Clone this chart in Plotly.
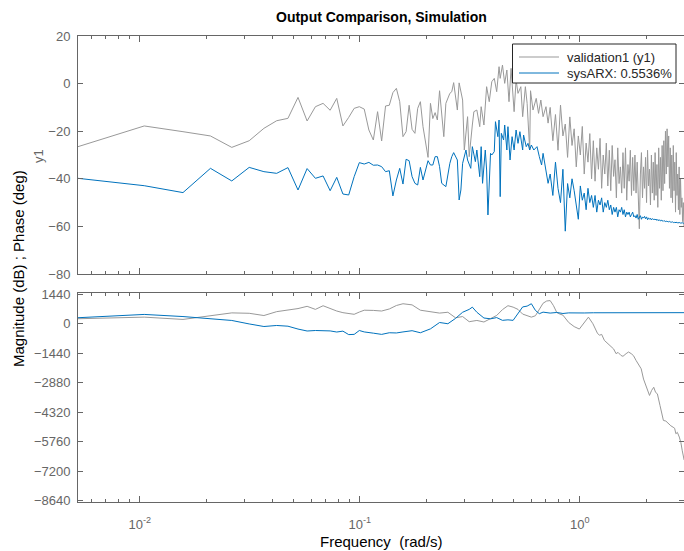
import math
import plotly.graph_objects as go

# frequency bins: w = k * 2*pi/1200 (rad/s)
BIN_W = 2 * math.pi / 1200

# ---------------- Magnitude (dB) ----------------
val_mag_bins = list(range(1, 38)) + [
    39, 40, 41, 42, 43, 44, 46, 47, 49, 50, 51, 53, 54, 56, 57, 59, 60,
    62, 63, 65, 67, 68, 70, 72, 74, 76, 78, 80, 82, 83, 85, 87, 89,
    91, 93, 96, 98, 100, 103, 105, 108, 110, 113, 114, 117,
    121, 124, 127, 130, 134, 137] + list(range(140, 569, 4))
val_mag = [
    -26.5, -17.8, -20.2, -22.0, -26.8, -24.0, -18.8, -15.6, -14.6, -5.8,
    -15.7, -9.7, -8.3, -11.2, -6.2, -17.8, -14.2, -10.4, -9.7, -10.7,
    -19.5, -23.7, -11.8, -24.1, -9.4, -9.1, -3.8, -2.0, -7.6, -22.3,
    -20.2, -9.1, -19.2, -20.9, -10.4, -7.6, -18.1,
    -31.0, -8.3, -14.7, -12.2, -15.3, -3.0, -22.3, -8.3, -4.1, -3.4, 0.4,
    -11.1, 0.3, -6.9, -27.9, -13.9, -30.7,
    -17.4, -11.8, -11.1, -18.1, -9.7, -17.4, -1.3, -7.6, 0.8, 2.2, -3.4,
    7.1, 2.2, 7.8, 0.1, 5.7,
    -7.6, 6.4, -11.8, 1.5, -4.1, -1.3, -13.9, -1.3, -8.3, -27.9, -3.0, -11.1,
    -6.2, -12.5, -6.9, -13.9, -9.7, -16.6,
    -10, -24, -13, -28, -9, -22, -17, -31, -14, -26,
    -19, -35, -22, -30, -18, -38, -25, -33, -21, -40,
    -24, -41, -27, -36, -23, -44, -30, -38, -25, -43,
    -28, -45, -26, -39, -32, -48, -27, -42, -35, -46,
    -29, -44, -27, -49, -34, -41, -28, -47, -31, -45,
    -30, -46, -33, -50, -61, -38, -29, -48, -35, -44,
    -31, -50, -28, -43, -36, -51, -30, -46, -33, -49,
    -29, -47, -34, -52, -27, -44, -31, -49, -26, -45,
    -24, -42, -20, -38, -19, -35, -22, -44, -27, -48,
    -30, -50, -26, -45, -33, -54, -29, -47, -38, -53,
    -35, -55, -40, -52, -48, -58, -50, -60]

arx_mag_bins = list(range(1, 38)) + [
    39, 40, 41, 42, 43, 44, 45, 47, 49, 50, 51, 53, 54, 55, 56, 58, 59, 61,
    62, 64, 65, 67, 68, 69, 71, 72, 73, 75, 76, 78, 79, 81, 82, 83, 84, 86,
    87, 89, 90, 92, 94, 96, 98, 100, 102, 105, 106, 109, 111, 113, 115, 118,
    122, 125, 128, 130, 134, 137] + list(range(140, 569, 4))
arx_mag = [
    -39.8, -42.9, -45.8, -35.6, -40.9, -35.2, -37.0, -37.7, -35.3, -44.7,
    -35.7, -39.8, -38.8, -45.0, -39.4, -46.4, -46.8, -39.1, -33.2, -33.8,
    -33.1, -34.3, -34.2, -34.9, -37.0, -36.6, -47.2, -40.5, -35.6, -42.2,
    -31.8, -32.4, -39.1, -41.9, -42.6, -35.2, -40.5,
    -32.4, -34.2, -34.2, -30.7, -30.7, -34.9, -41.9, -43.3, -33.5, -30.7,
    -29.0, -32.1, -48.9, -44.7, -33.5, -27.9, -32.1, -35.6, -26.5, -32.8,
    -27.9, -39.1, -26.5, -41.9, -27.9, -36.3, -55.2, -29.3, -30.0, -28.6,
    -16.0, -22.3, -15.3, -47.5, -20.9, -23.7, -17.4, -27.9, -18.1, -32.1,
    -22.3, -27.9, -19.5, -25.1, -20.2, -27.9, -21.6, -26.5, -25.1, -27.9,
    -25.8, -27.9, -26.5, -30.7, -34.2, -29.3, -36.3, -41.9,
    -38, -47, -33, -44, -50, -36, -62, -42, -48, -40,
    -45, -51, -57, -43, -49, -46, -53, -44, -50, -47,
    -52, -47, -54, -49, -51, -48, -54, -50, -52, -49,
    -53, -51, -55, -52, -54, -52, -56, -53, -54, -52,
    -55, -53, -56, -54, -55, -54, -56, -55, -54, -56,
    -55.5, -56.5, -55, -57, -56, -55.5, -57, -56, -56.5, -55.8,
    -56.8, -56, -57.2, -56.4, -57, -56.6, -57.3, -56.7, -57.1, -56.9,
    -57.3, -56.9, -57.5, -57.1, -57.6, -57.2, -57.7, -57.4, -57.8, -57.5,
    -57.9, -57.6, -58.0, -57.7, -58.1, -57.8, -58.2, -57.9, -58.2, -58.0,
    -58.3, -58.1, -58.4, -58.2, -58.4, -58.3, -58.5, -58.3, -58.5, -58.4,
    -58.6, -58.4, -58.6, -58.5, -58.7, -58.5, -58.7, -58.6]

# ---------------- Phase (deg) ----------------
val_ph_bins = list(range(1, 21)) + [
    22, 24, 26, 28, 30, 33, 36, 40, 44, 48,
    52, 56, 60, 65, 70, 75, 80, 85, 90, 95,
    100, 105, 110, 115, 120, 125, 130, 135, 140, 145,
    150, 155, 160, 170, 180, 190, 196, 209,
    219, 230, 235, 240, 247, 265, 272, 279, 285,
    294, 300, 310, 318, 327, 335, 344, 363,
    372, 382, 396, 405, 414, 422, 430, 442,
    450, 458, 470, 483, 495, 507, 515, 522, 530,
    541, 550, 558, 566, 569]
val_ph = [
    244, 322, 210, 375, 530, 510, 400, 590, 660, 740,
    850, 700, 878, 740, 620, 540, 490, 460, 570, 660,
    650, 620, 720, 890, 976, 920, 660, 600, 520, 560,
    290, 350, 100, 161, 85, 250, 405, 690, 880, 810,
    700, 470, 400, 322, 390, 700, 1000, 1110, 1130, 880,
    550, 470, 420, 60, -140, -260, -83, 322,
    0, -480, -560, -520, -815, -1140, -1230, -1460, -1400,
    -1550, -1590, -1460, -1380, -1460, -1560, -1790, -2200,
    -2700, -3090, -3500, -3250, -3100, -3350, -3420, -3990,
    -4400, -4720, -4750, -4880, -4980, -5050, -5100, -5370, -5300,
    -5530, -5800, -6200, -6510, -6650]

arx_ph_bins = list(range(1, 21)) + [
    22, 24, 26, 28, 30, 33, 36, 40, 44, 48,
    52, 56, 60, 62, 65, 70, 75, 80, 85, 90,
    95, 100, 105, 110, 115, 120, 125, 130, 140, 150,
    160, 170, 180, 190, 200, 220, 240, 260, 300, 350,
    400, 450, 500, 569]
arx_ph = [
    293, 454, 350, 230, 160, -10, -135, -85, -120, -260,
    -355, -330, -335, -350, -405, -361, -530, -520, -330, -400,
    -460, -520, -440, -450, -400, -340, -440, -250, 60, 0,
    260, 560, 700, 810, 560, 280, 240, 300, 165, 190,
    165, 510, 820, 860, 976, 650, 490, 566, 520, 550,
    500, 530, 520, 540, 525, 535, 538, 540, 540, 540,
    540, 540, 540, 540]

y_mag_ticks = [-80, -60, -40, -20, 0, 20]
y_ph_ticks = [-8640, -7200, -5760, -4320, -2880, -1440, 0, 1440]
x_ticks = [0.01, 0.1, 1]
x_tick_text = ["10<sup>-2</sup>", "10<sup>-1</sup>", "10<sup>0</sup>"]
x_minor_ticks = [0.006, 0.007, 0.008, 0.009,
                 0.02, 0.03, 0.04, 0.05, 0.06, 0.07, 0.08, 0.09,
                 0.2, 0.3, 0.4, 0.5, 0.6, 0.7, 0.8, 0.9, 2, 3]

legend_names = ["validation1 (y1)", "sysARX: 0.5536%"]

for b, v in [(val_mag_bins, val_mag), (arx_mag_bins, arx_mag),
             (val_ph_bins, val_ph), (arx_ph_bins, arx_ph)]:
    assert len(b) == len(v), (len(b), len(v))


def to_freq(bins):
    return [k * BIN_W for k in bins]


GRAY = "#999999"
BLUE = "#0072BD"
AX = "#666666"
FONT = "Liberation Sans, Arial, sans-serif"

fig = go.Figure()
fig.add_trace(go.Scatter(x=to_freq(val_mag_bins), y=val_mag, mode="lines",
                         line=dict(color=GRAY, width=1), name=legend_names[0],
                         xaxis="x", yaxis="y"))
fig.add_trace(go.Scatter(x=to_freq(arx_mag_bins), y=arx_mag, mode="lines",
                         line=dict(color=BLUE, width=1), name=legend_names[1],
                         xaxis="x", yaxis="y"))
fig.add_trace(go.Scatter(x=to_freq(val_ph_bins), y=val_ph, mode="lines",
                         line=dict(color=GRAY, width=1), name=legend_names[0],
                         xaxis="x2", yaxis="y2"))
fig.add_trace(go.Scatter(x=to_freq(arx_ph_bins), y=arx_ph, mode="lines",
                         line=dict(color=BLUE, width=1), name=legend_names[1],
                         xaxis="x2", yaxis="y2"))

xcommon = dict(type="log", range=[-2.281, 0.4735], showgrid=False, zeroline=False,
               showline=True, linecolor=AX, linewidth=1, mirror="allticks",
               ticks="inside", ticklen=6, tickcolor=AX,
               tickmode="array", tickvals=x_ticks, ticktext=x_tick_text,
               ticklabelstandoff=10,
               tickfont=dict(family=FONT, size=13, color=AX),
               minor=dict(ticks="inside", ticklen=3, tickcolor=AX, showgrid=False,
                          tickmode="array", tickvals=x_minor_ticks))
ycommon = dict(showgrid=False, zeroline=False, showline=True, linecolor=AX,
               linewidth=1, mirror="allticks", ticks="inside", ticklen=5,
               tickcolor=AX, ticklabelstandoff=4,
               tickfont=dict(family=FONT, size=13, color=AX))


# manual legend box (MATLAB style)
def px_x(p):
    return (p - 78) / 606.0


def px_y(p):
    return (502 - p) / 466.0


shapes = [
    dict(type="rect", xref="paper", yref="paper",
         x0=px_x(512.5), x1=px_x(676), y0=px_y(83), y1=px_y(44),
         fillcolor="white", line=dict(color="#262626", width=1), layer="above"),
    dict(type="line", xref="paper", yref="paper",
         x0=px_x(519), x1=px_x(559), y0=px_y(57), y1=px_y(57),
         line=dict(color=GRAY, width=1), layer="above"),
    dict(type="line", xref="paper", yref="paper",
         x0=px_x(519), x1=px_x(559), y0=px_y(73), y1=px_y(73),
         line=dict(color=BLUE, width=1), layer="above"),
]

annotations = [
    dict(text="<b>Output Comparison, Simulation</b>", xref="paper", yref="paper",
         x=0.5, y=px_y(17), xanchor="center", yanchor="middle", showarrow=False,
         font=dict(family=FONT, size=14, color="black")),
    dict(text="Magnitude (dB) ; Phase (deg)", xref="paper", yref="paper",
         x=px_x(18), y=px_y(269), xanchor="center", yanchor="middle", textangle=-90,
         showarrow=False, font=dict(family=FONT, size=15, color="black")),
    dict(text="y1", xref="paper", yref="paper",
         x=px_x(38), y=px_y(156), xanchor="center", yanchor="middle", textangle=-90,
         showarrow=False, font=dict(family=FONT, size=13, color=AX)),
    dict(text="Frequency  (rad/s)", xref="paper", yref="paper",
         x=0.5, y=px_y(541), xanchor="center", yanchor="middle",
         showarrow=False, font=dict(family=FONT, size=15, color="black")),
    dict(text=legend_names[0], xref="paper", yref="paper",
         x=px_x(565), y=px_y(57), xanchor="left", yanchor="middle",
         showarrow=False, font=dict(family=FONT, size=13, color="#262626")),
    dict(text=legend_names[1], xref="paper", yref="paper",
         x=px_x(565), y=px_y(73), xanchor="left", yanchor="middle",
         showarrow=False, font=dict(family=FONT, size=13, color="#262626")),
]

fig.update_layout(
    width=684, height=551,
    margin=dict(l=78, r=0, t=36, b=49),
    paper_bgcolor="white", plot_bgcolor="white",
    font=dict(family=FONT, size=13, color=AX),
    xaxis=dict(**xcommon, anchor="y", showticklabels=False),
    xaxis2=dict(**xcommon, anchor="y2", matches="x"),
    yaxis=dict(**ycommon, domain=[px_y(274), 1.0], range=[-80, 20],
               tickvals=y_mag_ticks, anchor="x"),
    yaxis2=dict(**ycommon, domain=[0.0, px_y(293)], range=[-8700, 1500],
                tickvals=y_ph_ticks, anchor="x2"),
    showlegend=False,
    hovermode=False,
    shapes=shapes,
    annotations=annotations,
)

fig.write_html("out.html",
               config={"displayModeBar": False, "staticPlot": True},
               post_script="document.body.style.margin='0';"
                           "document.body.style.overflow='hidden';")
